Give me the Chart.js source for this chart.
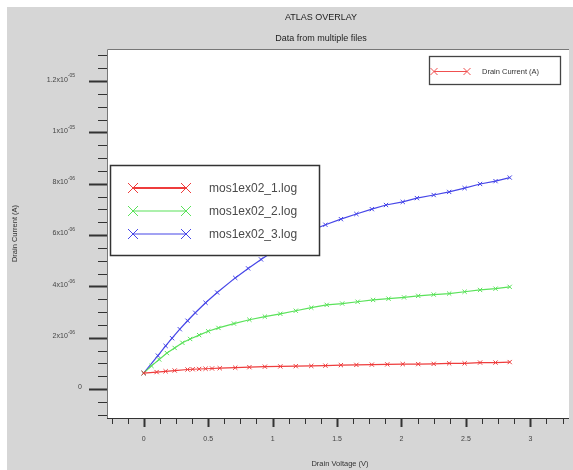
<!DOCTYPE html>
<html>
<head>
<meta charset="utf-8">
<script src="https://cdn.jsdelivr.net/npm/chart.js"></script>
<style>
body { margin: 0; background: #fff; }
#wrap { width: 573px; height: 470px; }
</style>
</head>
<body>
<div id="wrap"><canvas id="IV" width="573" height="470"></canvas></div>
<script>
// drain voltage (V) / drain current (A)
var vd1 = [0, 0.1, 0.17, 0.24, 0.34, 0.38, 0.43, 0.48, 0.53, 0.59, 0.71, 0.82, 0.94, 1.06, 1.18, 1.3, 1.41, 1.53, 1.65, 1.77, 1.89, 2.01, 2.13, 2.25, 2.37, 2.49, 2.61, 2.73, 2.84];
var id1 = [0.62e-6, 0.66e-6, 0.69e-6, 0.72e-6, 0.76e-6, 0.77e-6, 0.78e-6, 0.79e-6, 0.8e-6, 0.81e-6, 0.83e-6, 0.85e-6, 0.87e-6, 0.88e-6, 0.89e-6, 0.9e-6, 0.91e-6, 0.93e-6, 0.94e-6, 0.95e-6, 0.96e-6, 0.97e-6, 0.97e-6, 0.98e-6, 1.0e-6, 1.0e-6, 1.03e-6, 1.03e-6, 1.05e-6];

var vd2 = [0, 0.06, 0.12, 0.18, 0.24, 0.3, 0.36, 0.43, 0.5, 0.58, 0.7, 0.82, 0.94, 1.06, 1.18, 1.3, 1.42, 1.54, 1.66, 1.78, 1.9, 2.02, 2.13, 2.25, 2.37, 2.49, 2.61, 2.73, 2.84];
var id2 = [0.62e-6, 0.9e-6, 1.15e-6, 1.4e-6, 1.6e-6, 1.8e-6, 1.95e-6, 2.1e-6, 2.25e-6, 2.38e-6, 2.55e-6, 2.7e-6, 2.82e-6, 2.93e-6, 3.05e-6, 3.17e-6, 3.28e-6, 3.33e-6, 3.4e-6, 3.47e-6, 3.52e-6, 3.57e-6, 3.63e-6, 3.68e-6, 3.72e-6, 3.79e-6, 3.86e-6, 3.91e-6, 3.98e-6];

var vd3 = [0, 0.11, 0.17, 0.22, 0.28, 0.34, 0.4, 0.48, 0.57, 0.71, 0.81, 0.91, 1.03, 1.15, 1.28, 1.41, 1.53, 1.65, 1.77, 1.88, 2.01, 2.12, 2.25, 2.37, 2.49, 2.61, 2.73, 2.84];
var id3 = [0.62e-6, 1.3e-6, 1.68e-6, 1.98e-6, 2.33e-6, 2.66e-6, 2.97e-6, 3.36e-6, 3.76e-6, 4.33e-6, 4.7e-6, 5.05e-6, 5.45e-6, 5.82e-6, 6.14e-6, 6.4e-6, 6.62e-6, 6.82e-6, 7.01e-6, 7.17e-6, 7.29e-6, 7.44e-6, 7.56e-6, 7.68e-6, 7.83e-6, 7.99e-6, 8.1e-6, 8.24e-6];

var fileNames = ["mos1ex02_1.log", "mos1ex02_2.log", "mos1ex02_3.log"];
var colors = ["rgb(238,60,60)", "rgb(90,226,90)", "rgb(70,70,232)"];

var yTicks = [0, 2e-6, 4e-6, 6e-6, 8e-6, 1e-5, 1.2e-5];
var yTickText = ["0", "2x10", "4x10", "6x10", "8x10", "1x10", "1.2x10"];
var yTickSup = ["", "-06", "-06", "-06", "-06", "-05", "-05"];
var xTicks = [0, 0.5, 1, 1.5, 2, 2.5, 3];
var xTickText = ["0", "0.5", "1", "1.5", "2", "2.5", "3"];

var FONT = "'Liberation Sans', Arial, sans-serif";

function pts(xs, ys) {
    var out = [];
    for (var i = 0; i < xs.length; i++) { out.push({ x: xs[i], y: ys[i] }); }
    return out;
}

function xmark(ctx, x, y, r) {
    ctx.beginPath();
    ctx.moveTo(x - r, y - r); ctx.lineTo(x + r, y + r);
    ctx.moveTo(x - r, y + r); ctx.lineTo(x + r, y - r);
    ctx.stroke();
}

var atlasDeco = {
    id: 'atlasDeco',
    beforeDraw: function (chart) {
        var ctx = chart.ctx, a = chart.chartArea;
        ctx.save();
        ctx.fillStyle = '#fff';
        ctx.fillRect(0, 0, chart.width, chart.height);
        ctx.fillStyle = '#d6d6d6';
        ctx.fillRect(7, 7, chart.width - 7, chart.height - 7);
        ctx.fillStyle = '#fff';
        ctx.fillRect(a.left, a.top, a.right - a.left, a.bottom - a.top);
        ctx.restore();
    },
    afterDraw: function (chart) {
        var ctx = chart.ctx, a = chart.chartArea;
        var xs = chart.scales.x, ys = chart.scales.y;
        ctx.save();

        // frame
        ctx.strokeStyle = '#777';
        ctx.lineWidth = 1;
        ctx.beginPath();
        ctx.moveTo(a.left + 0.5, a.bottom);
        ctx.lineTo(a.left + 0.5, a.top + 0.5);
        ctx.lineTo(a.right, a.top + 0.5);
        ctx.stroke();
        ctx.strokeStyle = '#333';
        ctx.beginPath();
        ctx.moveTo(a.left, a.bottom + 0.5);
        ctx.lineTo(a.right, a.bottom + 0.5);
        ctx.stroke();

        // y ticks (minor every 5e-7)
        ctx.strokeStyle = '#333';
        for (var k = -2; k <= 26; k++) {
            var py = Math.round(ys.getPixelForValue(k * 5e-7)) + 0.5;
            if (py < a.top || py > a.bottom) continue;
            var major = (k % 4 == 0 && k >= 0);
            ctx.lineWidth = major ? 2 : 1;
            ctx.beginPath();
            ctx.moveTo(major ? a.left - 18 : a.left - 9, py);
            ctx.lineTo(a.left, py);
            ctx.stroke();
        }
        // x ticks (minor every 0.125)
        for (var j = -2; j <= 26; j++) {
            var px = Math.round(xs.getPixelForValue(j * 0.125)) + 0.5;
            if (px < a.left || px > a.right) continue;
            var maj = (j % 4 == 0 && j >= 0);
            ctx.lineWidth = maj ? 2 : 1;
            ctx.beginPath();
            ctx.moveTo(px, a.bottom);
            ctx.lineTo(px, a.bottom + (maj ? 9 : 6));
            ctx.stroke();
        }

        // tick labels
        ctx.fillStyle = '#444';
        ctx.textBaseline = 'middle';
        for (var i = 0; i < yTicks.length; i++) {
            var ty = ys.getPixelForValue(yTicks[i]);
            if (yTickSup[i] == "") {
                ctx.font = '7px ' + FONT;
                ctx.textAlign = 'center';
                ctx.fillText(yTickText[i], 80, ty - 2);
                continue;
            }
            ctx.font = '5px ' + FONT;
            ctx.textAlign = 'right';
            var sw = ctx.measureText(yTickSup[i]).width;
            ctx.fillText(yTickSup[i], 75, ty - 5);
            ctx.font = '7px ' + FONT;
            ctx.fillText(yTickText[i], 75 - sw, ty - 1.5);
        }
        ctx.font = '7px ' + FONT;
        ctx.textAlign = 'center';
        for (var i = 0; i < xTicks.length; i++) {
            ctx.fillText(xTickText[i], xs.getPixelForValue(xTicks[i]), 439);
        }

        // titles
        ctx.fillStyle = '#222';
        ctx.font = '9px ' + FONT;
        ctx.fillText('ATLAS OVERLAY', 321, 18);
        ctx.fillText('Data from multiple files', 321, 39);
        ctx.fillStyle = '#333';
        ctx.font = '7.5px ' + FONT;
        ctx.fillText('Drain Voltage (V)', 340, 464);
        ctx.save();
        ctx.translate(15, (a.top + a.bottom) / 2);
        ctx.rotate(-Math.PI / 2);
        ctx.fillText('Drain Current (A)', 0, 0);
        ctx.restore();

        // file legend
        ctx.fillStyle = '#fff';
        ctx.fillRect(110, 165, 209, 90);
        ctx.strokeStyle = '#333';
        ctx.lineWidth = 1.5;
        ctx.strokeRect(110.5, 165.5, 209, 90);
        ctx.font = '12px ' + FONT;
        ctx.textAlign = 'left';
        for (var n = 0; n < fileNames.length; n++) {
            var ly = 188 + n * 23;
            ctx.strokeStyle = colors[n];
            ctx.lineWidth = n == 0 ? 2.2 : 1.2;
            ctx.beginPath();
            ctx.moveTo(133, ly); ctx.lineTo(186, ly);
            ctx.stroke();
            ctx.lineWidth = 1;
            xmark(ctx, 133, ly, 5);
            xmark(ctx, 186, ly, 5);
            ctx.fillStyle = '#4a4a4a';
            ctx.fillText(fileNames[n], 209, ly + 1);
        }

        // top-right legend
        ctx.fillStyle = '#fff';
        ctx.fillRect(429, 56, 131, 28);
        ctx.strokeStyle = '#444';
        ctx.lineWidth = 1.3;
        ctx.strokeRect(429.5, 56.5, 131, 28);
        ctx.strokeStyle = 'rgb(240,80,80)';
        ctx.lineWidth = 1;
        ctx.beginPath();
        ctx.moveTo(434, 71.5); ctx.lineTo(467, 71.5);
        ctx.stroke();
        xmark(ctx, 434, 71.5, 3.5);
        xmark(ctx, 467, 71.5, 3.5);
        ctx.fillStyle = '#333';
        ctx.font = '7.5px ' + FONT;
        ctx.fillText('Drain Current (A)', 482, 72);

        ctx.restore();
    }
};

function makeSet(i, xs, ys) {
    return {
        label: fileNames[i],
        data: pts(xs, ys),
        showLine: true,
        borderColor: colors[i],
        backgroundColor: colors[i],
        borderWidth: 1.2,
        pointStyle: 'crossRot',
        pointRadius: 3,
        pointBorderWidth: 1,
        pointHoverRadius: 3,
        tension: 0
    };
}

var ctx = document.getElementById('IV').getContext('2d');
var ivChart = new Chart(ctx, {
    type: 'scatter',
    data: {
        datasets: [makeSet(0, vd1, id1), makeSet(1, vd2, id2), makeSet(2, vd3, id3)]
    },
    options: {
        responsive: false,
        animation: false,
        devicePixelRatio: 1,
        layout: { padding: { left: 107, top: 49, right: 0, bottom: 52 } },
        scales: {
            x: { type: 'linear', min: -0.285, max: 3.30, display: false },
            y: { type: 'linear', min: -1.13e-6, max: 1.325e-5, display: false }
        },
        plugins: {
            legend: { display: false },
            title: { display: false },
            tooltip: { enabled: false }
        }
    },
    plugins: [atlasDeco]
});
</script>
</body>
</html>
